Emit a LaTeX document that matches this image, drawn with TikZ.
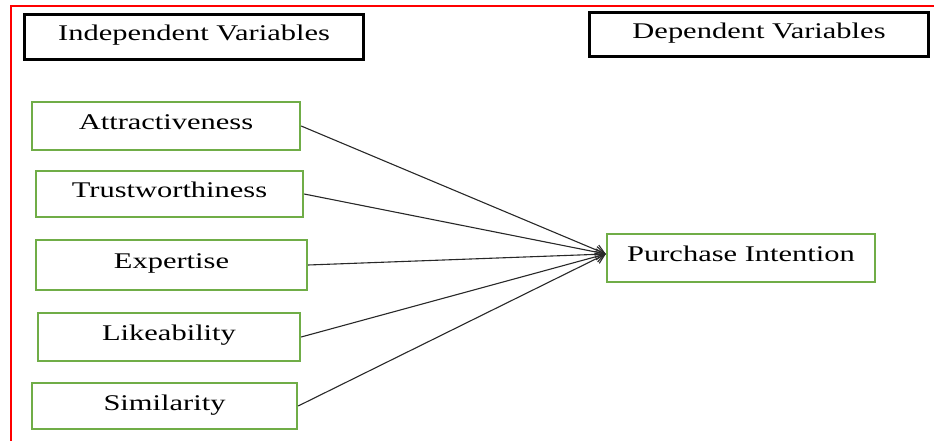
\documentclass[tikz,border=0pt]{standalone}
\usepackage{fontspec}
\setmainfont{Liberation Serif}[FakeStretch=1.36]
\usetikzlibrary{arrows.meta}
\definecolor{boxgreen}{RGB}{112,173,71}
\definecolor{framered}{RGB}{255,0,0}
\definecolor{linegray}{RGB}{40,40,40}
\tikzset{
  ivbox/.style={draw=boxgreen, line width=2.3bp, inner sep=0pt,
    text height=16bp, text depth=8bp,
    font=\fontsize{22.5pt}{26pt}\selectfont},
  headbox/.style={draw=black, line width=2.6bp, inner sep=0pt,
    text height=16bp, text depth=8bp,
    font=\fontsize{22.5pt}{26pt}\selectfont},
  link/.style={draw=linegray, line width=1.1bp,
    -{Straight Barb[length=9bp,width=11bp,line width=1.1bp]}},
}
\begin{document}
\begin{tikzpicture}[x=1bp,y=-1bp]
\useasboundingbox (0,0) rectangle (934,441);
% red frame lines
\draw[framered, line width=1.4bp] (934,6) -- (11,6) -- (11,441);
% header boxes
\node[headbox, minimum width=339.5bp, minimum height=45.5bp] (indep) at (194,37) {Independent Variables};
\node[headbox, minimum width=339.5bp, minimum height=44.5bp] (dep) at (759,34.5) {Dependent Variables};
% independent variable boxes
\node[ivbox, minimum width=268bp, minimum height=48bp] (attr) at (166,126) {Attractiveness};
\node[ivbox, minimum width=267bp, minimum height=46bp] (trust) at (169.5,194) {Trustworthiness};
\node[ivbox, minimum width=271bp, minimum height=50bp] (expert) at (171.5,265) {Expertise};
\node[ivbox, minimum width=262bp, minimum height=48bp] (like) at (169,337) {Likeability};
\node[ivbox, minimum width=265bp, minimum height=46bp] (sim) at (164.5,406) {Similarity};
% dependent variable box
\node[ivbox, minimum width=268bp, minimum height=48bp] (pi) at (741,258) {Purchase Intention};
\coordinate (tip) at ([yshift=4bp]pi.west);
% connectors
\draw[link] (attr.east) -- (tip);
\draw[link] (trust.east) -- (tip);
\draw[link] (expert.east) -- (tip);
\draw[link] (like.east) -- (tip);
\draw[link] (sim.east) -- (tip);
\end{tikzpicture}
\end{document}
